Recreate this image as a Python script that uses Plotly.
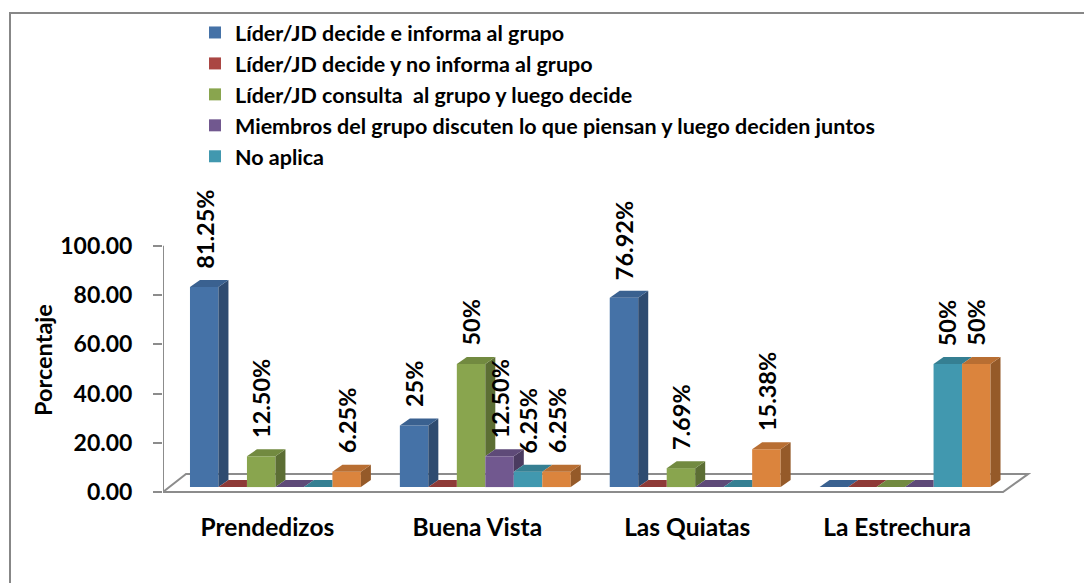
import plotly.graph_objects as go

# ---------------- data ----------------
categories = ["Prendedizos", "Buena Vista", "Las Quiatas", "La Estrechura"]
series_names = [
    "Líder/JD decide e informa al grupo",
    "Líder/JD decide y no informa al grupo",
    "Líder/JD consulta\u00a0 al grupo y luego decide",
    "Miembros del grupo discuten lo que piensan y luego deciden juntos",
    "No aplica",
    "Serie 6",
]
lider_informa = [81.25, 25.00, 76.92, 0.00]
lider_no_informa = [0.00, 0.00, 0.00, 0.00]
lider_consulta = [12.50, 50.00, 7.69, 0.00]
miembros_discuten = [0.00, 12.50, 0.00, 0.00]
no_aplica = [0.00, 6.25, 0.00, 50.00]
serie_6 = [6.25, 6.25, 15.38, 50.00]
y_tick_values = [0, 20, 40, 60, 80, 100]
y_tick_labels = ["0.00", "20.00", "40.00", "60.00", "80.00", "100.00"]
y_title = "Porcentaje"

series_values = [lider_informa, lider_no_informa, lider_consulta,
                 miembros_discuten, no_aplica, serie_6]
show_in_legend = [True, True, True, True, True, False]

# ---------------- style ----------------
front_colors = ["#4572A7", "#AA4643", "#89A54E", "#71588F", "#4198AF", "#DB843D"]
side_colors = ["#2E4B70", "#722E2C", "#5C6E34", "#4B3B60", "#2B6675", "#955A29"]
top_colors = ["#3A6190", "#8E3A37", "#728A40", "#5E4A78", "#357F92", "#B86E32"]
FONT = "Lato"
W, H = 1092, 583
OFF = 8  # page body margin
L_M, T_M = 163 - OFF, 172 - OFF
plot_w, plot_h = 868, 325
R_M = W - L_M - plot_w
B_M = H - T_M - plot_h
x_range = [-0.5357, 3.6]
y_range = [-2, 130]
px_per_x = plot_w / (x_range[1] - x_range[0])
px_per_y = plot_h / (y_range[1] - y_range[0])
lift_px = 5
y2_range = [y_range[0] - lift_px / px_per_y, y_range[1] - lift_px / px_per_y]

n = len(series_values)
bargap = 0.1857
bw = (1 - bargap) / n
dx = 10 / px_per_x
dy = 7 / px_per_y
label_shift = 8 / px_per_x  # category labels sit on the floor's front edge


def fmt(v):
    return f"{int(v)}%" if float(v).is_integer() else f"{v:.2f}%"


def paper_x(screen_x):
    return (screen_x - OFF - L_M) / plot_w


def paper_y(screen_y):
    return (T_M + plot_h - (screen_y - OFF)) / plot_h


fig = go.Figure()

# front faces (real bars)
for i, vals in enumerate(series_values):
    fig.add_trace(go.Bar(
        x=list(range(len(categories))), y=vals, name=series_names[i],
        width=bw, offset=-(1 - bargap) / 2 + i * bw,
        marker=dict(color=front_colors[i], line=dict(width=0)),
        showlegend=show_in_legend[i], yaxis="y2", hoverinfo="skip",
    ))

# depth faces computed from the same values
for c in range(len(categories)):
    for i in range(n):
        v = series_values[i][c]
        v_next = series_values[i + 1][c] if i < n - 1 else 0.0
        Lx = c - (1 - bargap) / 2 + i * bw
        Rx = Lx + bw
        h0 = v_next if i < n - 1 else 0.0
        if v > h0:
            xs = [Rx, Rx + dx, Rx + dx, Rx, Rx]
            ys = [h0, h0 + dy, v + dy, v, h0]
            fig.add_trace(go.Scatter(x=xs, y=ys, mode="lines", fill="toself",
                                     fillcolor=side_colors[i], line=dict(width=0),
                                     showlegend=False, hoverinfo="skip", yaxis="y2"))
        if i == n - 1 or v_next <= v:
            xs = [Lx, Lx + dx, Rx + dx, Rx, Lx]
            ys = [v, v + dy, v + dy, v, v]
        elif v_next >= v + dy:
            xs = [Lx, Lx + dx, Rx, Rx, Lx]
            ys = [v, v + dy, v + dy, v, v]
        else:
            xi = Rx + dx * (v_next - v) / dy
            xs = [Lx, Lx + dx, Rx + dx, xi, Rx, Rx, Lx]
            ys = [v, v + dy, v + dy, v_next, v_next, v, v]
        fig.add_trace(go.Scatter(x=xs, y=ys, mode="lines", fill="toself",
                                 fillcolor=top_colors[i], line=dict(width=0),
                                 showlegend=False, hoverinfo="skip", yaxis="y2"))

# value labels
annotations = []
for c in range(len(categories)):
    for i in range(n):
        v = series_values[i][c]
        if v <= 0:
            continue
        xc = c - (1 - bargap) / 2 + i * bw + bw / 2
        annotations.append(dict(
            x=xc, y=v, xref="x", yref="y2", text=fmt(v), showarrow=False,
            textangle=-90, xanchor="center", yanchor="bottom", yshift=16,
            font=dict(family=FONT, size=23.5, color="black", weight="bold"),
        ))

# y axis title
annotations.append(dict(
    x=paper_x(43), y=paper_y(360), xref="paper", yref="paper", text=y_title,
    showarrow=False, textangle=-90, xanchor="center", yanchor="middle",
    font=dict(family=FONT, size=23.5, color="black", weight="bold"),
))

# floor and axis line (decoration)
floor_depth_y = 18 / px_per_y
x_front_l = x_range[0]
x_front_r = x_range[0] + (1003 - 163) / px_per_x
x_back_l = x_range[0] + (186 - 163) / px_per_x
x_back_r = x_range[0] + (1028 - 163) / px_per_x
shapes = [
    dict(type="path", xref="x", yref="y", layer="below",
         path=(f"M{x_front_l},0 L{x_front_r},0 L{x_back_r},{floor_depth_y} "
               f"L{x_back_l},{floor_depth_y} Z"),
         line=dict(color="#8C8C8C", width=2), fillcolor="white"),
    dict(type="line", xref="x", yref="y", x0=x_range[0], x1=x_range[0], y0=0, y1=100,
         line=dict(color="#8C8C8C", width=2)),
    # chart border
    dict(type="rect", xref="paper", yref="paper",
         x0=paper_x(10), x1=paper_x(W + 20),
         y0=paper_y(H + 20), y1=paper_y(13),
         line=dict(color="#878787", width=2), fillcolor="rgba(0,0,0,0)", layer="below"),
]

fig.update_layout(
    width=W, height=H, autosize=False,
    margin=dict(l=L_M, r=R_M, t=T_M, b=B_M, autoexpand=False),
    paper_bgcolor="white", plot_bgcolor="white",
    barmode="overlay",
    font=dict(family=FONT, color="black"),
    xaxis=dict(range=x_range, tickmode="array",
               tickvals=[c - label_shift for c in range(len(categories))],
               ticktext=categories, showgrid=False, zeroline=False, showline=False,
               ticks="", ticklabelstandoff=13, automargin=False,
               tickfont=dict(family=FONT, size=24.5, color="black", weight="bold")),
    yaxis=dict(range=y_range, tickmode="array", tickvals=y_tick_values,
               ticktext=y_tick_labels, showgrid=False, zeroline=False, showline=False,
               ticks="outside", ticklen=9, tickwidth=2, tickcolor="#8C8C8C",
               ticklabelstandoff=16, automargin=False,
               tickfont=dict(family=FONT, size=23, color="black", weight="bold")),
    yaxis2=dict(range=y2_range, overlaying="y", visible=False, showgrid=False,
                zeroline=False, automargin=False),
    legend=dict(xref="container", yref="container", x=187 / W, y=1 - 4 / H,
                xanchor="left", yanchor="top", traceorder="normal",
                font=dict(family=FONT, size=21.5, color="black", weight="bold"),
                bgcolor="rgba(0,0,0,0)"),
    annotations=annotations,
    shapes=shapes,
)

fig.write_html("out.html")
